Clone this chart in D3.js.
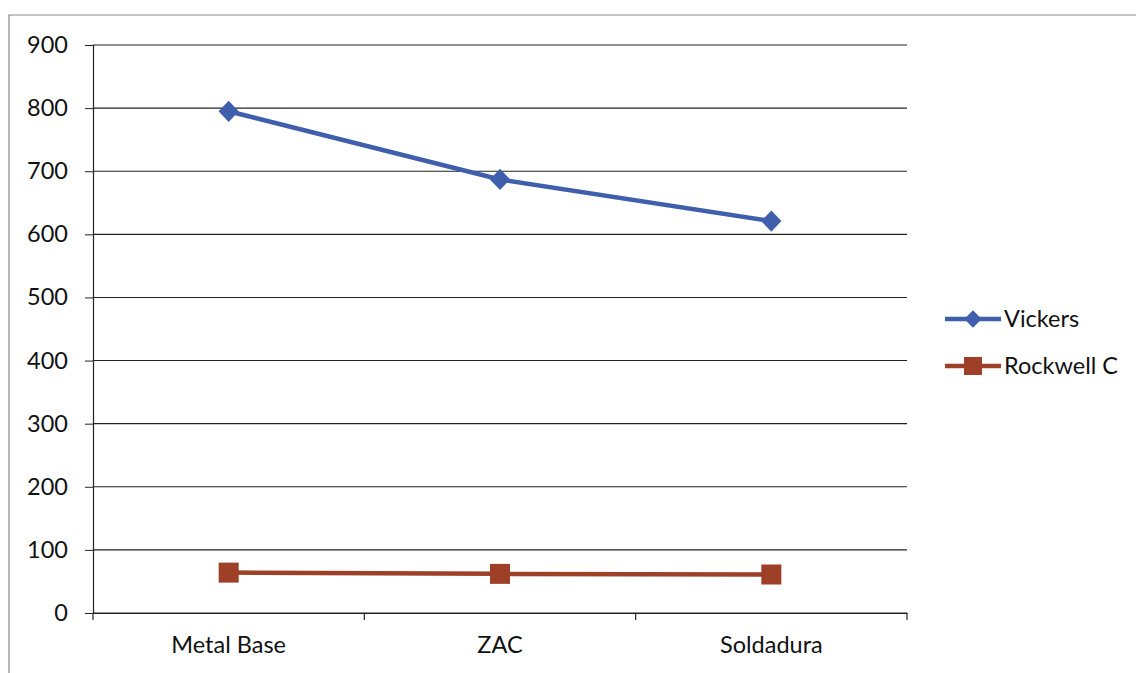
<!DOCTYPE html>
<html><head><meta charset="utf-8">
<script src="https://cdn.jsdelivr.net/npm/d3@7"></script>
<style>body{margin:0;background:#fff}svg{display:block}</style>
</head><body>
<script>
const categories = ["Metal Base", "ZAC", "Soldadura"];
const vickers = [795, 687, 621];
const rockwell = [64, 62, 61];
const yTicks = [0,100,200,300,400,500,600,700,800,900];
const seriesNames = ["Vickers", "Rockwell C"];

(function(){
const W = 1136, H = 673;
const svg = d3.select("body").append("svg").attr("width", W).attr("height", H);
const font = "Lato, 'Open Sans', sans-serif";
const fs = 23.5;
const colors = ["#3F5FAD", "#9E3F28"];

// frame
svg.append("path").attr("d", "M9,673 L9,15 L1136,15").attr("fill","none").attr("stroke","#888").attr("stroke-width",1.2);

const pLeft = 93, pRight = 907, pTop = 45, pBottom = 613;
const y = d3.scaleLinear().domain([0, 900]).range([pBottom, pTop]);
const x = d3.scaleBand().domain(categories).range([pLeft, pRight]);

// gridlines
svg.append("g").selectAll("line").data(yTicks).join("line")
  .attr("x1", pLeft).attr("x2", pRight).attr("y1", d=>y(d)).attr("y2", d=>y(d))
  .attr("stroke", "#222").attr("stroke-width", 1.1);

// y axis
const yAxis = svg.append("g").attr("transform", `translate(${pLeft},0)`)
  .call(d3.axisLeft(y).tickValues(yTicks).tickSize(8).tickPadding(17));
yAxis.select(".domain").attr("stroke","#222").attr("stroke-width",1.2);
yAxis.selectAll("line").attr("stroke","#222");
yAxis.selectAll("text").attr("font-family", font).attr("font-size", fs).attr("fill","#111");

// x axis
const xAxis = svg.append("g").attr("transform", `translate(0,${pBottom})`)
  .call(d3.axisBottom(x).tickSize(0).tickPadding(23));
xAxis.select(".domain").attr("stroke","#222").attr("stroke-width",1.2);
xAxis.selectAll("text").attr("font-family", font).attr("font-size", fs).attr("fill","#111");
// boundary ticks
const bounds = [pLeft, ...categories.map(c => x(c) + x.bandwidth())];
svg.append("g").selectAll("line").data(bounds).join("line")
  .attr("x1", d=>d).attr("x2", d=>d).attr("y1", pBottom).attr("y2", pBottom+7)
  .attr("stroke","#222").attr("stroke-width",1.2);

const cx = c => x(c) + x.bandwidth()/2;
const line = d3.line().x((d,i)=>cx(categories[i])).y(d=>y(d));

// Vickers
svg.append("path").datum(vickers).attr("d", line).attr("fill","none")
  .attr("stroke", colors[0]).attr("stroke-width", 4.5);
svg.append("g").selectAll("path").data(vickers).join("path")
  .attr("d", d3.symbol(d3.symbolDiamond, 130))
  .attr("transform", (d,i)=>`translate(${cx(categories[i])},${y(d)}) scale(1.65,1)`)
  .attr("fill", colors[0]);

// Rockwell
svg.append("path").datum(rockwell).attr("d", line).attr("fill","none")
  .attr("stroke", colors[1]).attr("stroke-width", 4.5);
svg.append("g").selectAll("rect").data(rockwell).join("rect")
  .attr("x", (d,i)=>cx(categories[i])-10).attr("y", d=>y(d)-10)
  .attr("width", 20).attr("height", 20).attr("fill", colors[1]);

// legend
const leg = svg.append("g");
const legY = [319, 366];
seriesNames.forEach((n, i) => {
  const g = leg.append("g").attr("transform", `translate(945,${legY[i]})`);
  g.append("line").attr("x1",0).attr("x2",56).attr("stroke",colors[i]).attr("stroke-width",4.5);
  if (i === 0) {
    g.append("path").attr("d", d3.symbol(d3.symbolDiamond, 90)).attr("transform","translate(28,0) scale(1.7,1)").attr("fill",colors[i]);
  } else {
    g.append("rect").attr("x",19).attr("y",-9).attr("width",18).attr("height",18).attr("fill",colors[i]);
  }
  g.append("text").attr("x", 59).attr("y", 0).attr("dy","0.35em")
    .attr("font-family", font).attr("font-size", fs).attr("fill","#111").text(n);
});
})();
</script>
</body></html>
